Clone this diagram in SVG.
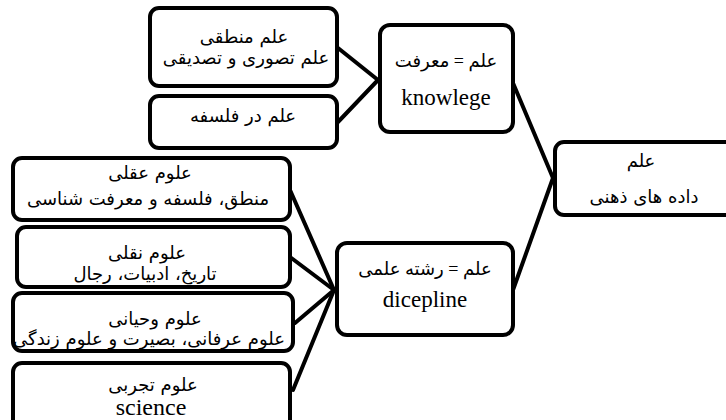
<svg xmlns="http://www.w3.org/2000/svg" width="726" height="420" viewBox="0 0 726 420">
<style>
.box{fill:#fff;stroke:#000;stroke-width:4}
.fa{font-family:"DejaVu Sans","Noto Sans",sans-serif;font-size:18px;fill:#000;text-anchor:middle}
.fs{font-family:"Liberation Serif","DejaVu Sans",serif;font-size:18px;fill:#000;text-anchor:middle}
.en{font-family:"Liberation Serif","DejaVu Sans",serif;font-size:23px;fill:#000;text-anchor:middle}
.con{stroke:#000;stroke-width:4;fill:none;stroke-linecap:round}
</style>
<rect width="726" height="420" fill="#fff"/>
<g id="connectors">
<line class="con" x1="338" y1="48" x2="378" y2="80"/>
<line class="con" x1="338" y1="122" x2="378" y2="80"/>
<line class="con" x1="513" y1="83" x2="553" y2="178"/>
<line class="con" x1="513" y1="290" x2="553" y2="178"/>
<line class="con" x1="290" y1="190" x2="334" y2="290"/>
<line class="con" x1="290" y1="257" x2="334" y2="290"/>
<line class="con" x1="295" y1="323" x2="334" y2="290"/>
<line class="con" x1="293" y1="390" x2="334" y2="290"/>
</g>
<g id="n1">
<rect class="box" x="150" y="8" width="187" height="78" rx="9"/>
<text class="fa" x="244" y="43" direction="rtl">علم منطقی</text>
<text class="fa" x="246" y="64" direction="rtl">علم تصوری و تصدیقی</text>
</g>
<g id="n2">
<rect class="box" x="150" y="96" width="187" height="52" rx="9"/>
<text class="fa" x="243" y="122" direction="rtl">علم در فلسفه</text>
</g>
<g id="n3">
<rect class="box" x="380" y="25" width="133" height="107" rx="10"/>
<text class="fs" x="446" y="67" direction="rtl">علم = معرفت</text>
<text class="en" x="446" y="105">knowlege</text>
</g>
<g id="n4">
<rect class="box" x="555" y="142" width="190" height="73" rx="9"/>
<text class="fa" x="641" y="167" direction="rtl">علم</text>
<text class="fa" x="644" y="203" direction="rtl">داده های ذهنی</text>
</g>
<g id="n5">
<rect class="box" x="13" y="158" width="277" height="62" rx="9"/>
<text class="fa" x="150" y="179" direction="rtl">علوم عقلی</text>
<text class="fa" x="148" y="205" direction="rtl">منطق، فلسفه و معرفت شناسی</text>
</g>
<g id="n6">
<rect class="box" x="17" y="227" width="273" height="60" rx="9"/>
<text class="fa" x="147" y="259" direction="rtl">علوم نقلی</text>
<text class="fa" x="145" y="280" direction="rtl">تاریخ، ادبیات، رجال</text>
</g>
<g id="n7">
<rect class="box" x="13" y="293" width="280" height="58" rx="9"/>
<text class="fa" x="155" y="325" direction="rtl">علوم وحیانی</text>
<text class="fa" x="149" y="345" direction="rtl">علوم عرفانی، بصیرت و علوم زندگی</text>
</g>
<g id="n8">
<rect class="box" x="13" y="363" width="277" height="70" rx="9"/>
<text class="fa" x="153" y="391" direction="rtl">علوم تجربی</text>
<text class="en" x="151" y="415" style="font-size:24px">science</text>
</g>
<g id="n9">
<rect class="box" x="337" y="243" width="176" height="92" rx="10"/>
<text class="fs" x="425" y="275" direction="rtl">علم = رشته علمی</text>
<text class="en" x="425" y="307">dicepline</text>
</g>
</svg>
